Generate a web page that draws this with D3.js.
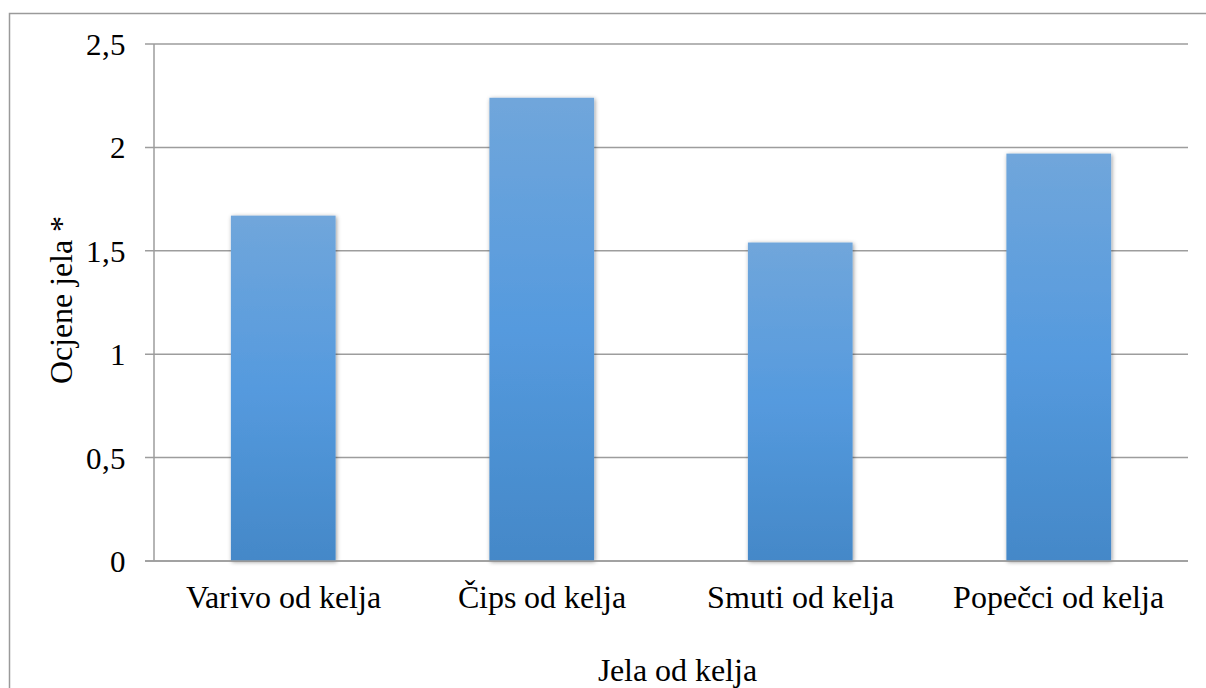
<!DOCTYPE html>
<html>
<head>
<meta charset="utf-8">
<script src="https://cdn.jsdelivr.net/npm/d3@7"></script>
<style>
  @font-face {
    font-family: "ChartSerif";
    src: local("Liberation Serif"), local("LiberationSerif"), local("LiberationSerif-Regular"),
         local("Times New Roman"), local("DejaVu Serif"), local("DejaVuSerif");
  }
  html, body { margin: 0; padding: 0; background: #fff; }
  svg { display: block; }
</style>
</head>
<body>
<script>
// Ratings of kale dishes
const categories = ["Varivo od kelja", "Čips od kelja", "Smuti od kelja", "Popečci od kelja"];
const values = [1.67, 2.24, 1.54, 1.97];
const yTicks = [0, 0.5, 1, 1.5, 2, 2.5];
const yTickLabels = ["0", "0,5", "1", "1,5", "2", "2,5"];
const xTitle = "Jela od kelja";
const yTitle = "Ocjene jela *";

const W = 1206, H = 688;
const plot = { left: 154, right: 1188, top: 44, bottom: 561 };
const FONT = "ChartSerif, 'Liberation Serif', 'Times New Roman', Times, 'DejaVu Serif', serif";

const svg = d3.select("body").append("svg").attr("width", W).attr("height", H)
  .attr("font-family", FONT);

const defs = svg.append("defs");
const grad = defs.append("linearGradient").attr("id", "barFill")
  .attr("x1", 0).attr("y1", 0).attr("x2", 0).attr("y2", 1);
grad.append("stop").attr("offset", "0%").attr("stop-color", "#70a6db");
grad.append("stop").attr("offset", "50%").attr("stop-color", "#559ade");
grad.append("stop").attr("offset", "100%").attr("stop-color", "#4488c8");

const shadow = defs.append("filter").attr("id", "barShadow")
  .attr("x", "-20%").attr("y", "-10%").attr("width", "140%").attr("height", "120%");
shadow.append("feDropShadow").attr("dx", 1).attr("dy", 1)
  .attr("stdDeviation", 2.2).attr("flood-color", "#000").attr("flood-opacity", 0.4);

// Outer frame
svg.append("rect").attr("x", 9.5).attr("y", 13.5).attr("width", W).attr("height", H)
  .attr("fill", "none").attr("stroke", "#9a9a9a").attr("stroke-width", 1.5);

const x = d3.scaleBand().domain(categories).range([plot.left, plot.right])
  .paddingInner(0.595).paddingOuter(0.2975);
const y = d3.scaleLinear().domain([0, 2.5]).range([plot.bottom, plot.top]);

// Horizontal gridlines with tick stubs
svg.append("g").selectAll("line").data(yTicks).join("line")
  .attr("x1", plot.left - 9).attr("x2", plot.right)
  .attr("y1", d => y(d)).attr("y2", d => y(d))
  .attr("stroke", "#9d9d9d").attr("stroke-width", 1.5);

// Vertical axis line
svg.append("line").attr("x1", plot.left).attr("x2", plot.left)
  .attr("y1", y(2.5)).attr("y2", y(0))
  .attr("stroke", "#9d9d9d").attr("stroke-width", 1.5);

// Bars
svg.append("g").selectAll("rect").data(values).join("rect")
  .attr("x", (d, i) => x(categories[i]))
  .attr("width", x.bandwidth())
  .attr("y", d => y(d))
  .attr("height", d => y(0) - y(d))
  .attr("fill", "url(#barFill)")
  .attr("filter", "url(#barShadow)");

// Redraw baseline over bar shadows
svg.append("line").attr("x1", plot.left - 9).attr("x2", plot.right)
  .attr("y1", y(0)).attr("y2", y(0))
  .attr("stroke", "#9d9d9d").attr("stroke-width", 1.5);

// Y tick labels
svg.append("g").selectAll("text").data(yTicks).join("text")
  .attr("x", 126).attr("y", d => y(d) + 11)
  .attr("text-anchor", "end").attr("font-size", 31)
  .attr("font-family", FONT).attr("fill", "#000")
  .text((d, i) => yTickLabels[i]);

// Category labels
svg.append("g").selectAll("text").data(categories).join("text")
  .attr("x", d => x(d) + x.bandwidth() / 2).attr("y", 608)
  .attr("text-anchor", "middle").attr("font-size", 32)
  .attr("font-family", FONT).attr("fill", "#000")
  .text(d => d);

// Axis titles
svg.append("text").attr("x", 677).attr("y", 681)
  .attr("text-anchor", "middle").attr("font-size", 32)
  .attr("font-family", FONT).attr("fill", "#000").text(xTitle);

svg.append("text").attr("transform", "translate(72,300) rotate(-90)")
  .attr("text-anchor", "middle").attr("font-size", 32)
  .attr("font-family", FONT).attr("fill", "#000").text(yTitle);
</script>
</body>
</html>
